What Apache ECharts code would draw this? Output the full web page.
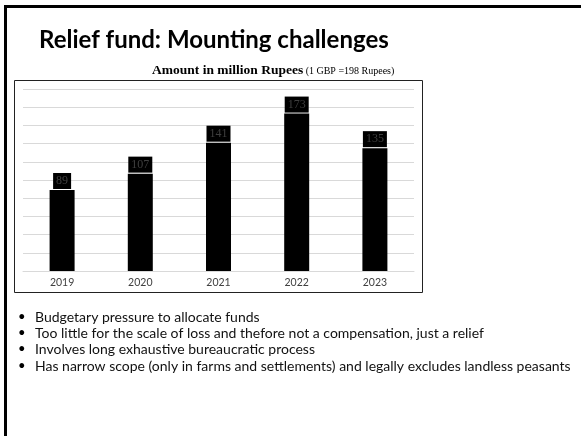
<!DOCTYPE html>
<html>
<head>
<meta charset="utf-8">
<script src="https://cdn.jsdelivr.net/npm/echarts@6/dist/echarts.min.js"></script>
<style>html,body{margin:0;padding:0;background:#fff}#c{width:581px;height:436px}</style>
</head>
<body>
<div id="c"></div>
<script>
var years = ['2019', '2020', '2021', '2022', '2023'];
var amounts = [89, 107, 141, 173, 135];
var titleText = 'Relief fund: Mounting challenges';
var subtitleMain = 'Amount in million Rupees';
var subtitleNote = ' (1 GBP =198 Rupees)';
var bullets = [
  'Budgetary pressure to allocate funds',
  'Too little for the scale of loss and thefore not a compensation, just a relief',
  'Involves long exhaustive bureaucratic process',
  'Has narrow scope (only in farms and settlements) and legally excludes landless peasants'
];
var bulletY = [317, 333, 349, 366];

var chart = echarts.init(document.getElementById('c'), null, {renderer: 'canvas'});
var graphics = [
  {type: 'polyline', shape: {points: [[5.5, 800], [5.5, 6.5], [800, 6.5]]}, style: {fill: 'none', stroke: '#000', lineWidth: 3}, silent: true},
  {type: 'rect', shape: {x: 14.5, y: 80.5, width: 408, height: 212}, style: {fill: 'none', stroke: '#222', lineWidth: 1}, silent: true, z: -1},
  {type: 'text', left: 152, top: 64, style: {
    text: '{a|' + subtitleMain + '}{b|' + subtitleNote + '}',
    rich: {
      a: {fontFamily: 'Liberation Serif', fontWeight: 'bold', fontSize: 13.5, fill: '#000'},
      b: {fontFamily: 'Liberation Serif', fontSize: 10, fill: '#000'}
    }
  }}
];
bullets.forEach(function (t, i) {
  graphics.push({type: 'text', x: 18, y: bulletY[i], style: {text: '•', fontFamily: 'Lato', fontSize: 13, fill: '#000', textVerticalAlign: 'middle'}});
  graphics.push({type: 'text', x: 35, y: bulletY[i], style: {text: t, fontFamily: 'Lato', fontSize: 14, fill: '#111', textVerticalAlign: 'middle'}});
});

chart.setOption({
  animation: false,
  title: {
    text: titleText, left: 34, top: 23,
    textStyle: {fontFamily: 'Lato', fontWeight: 'bold', fontSize: 24, color: '#000'}
  },
  grid: {left: 23, right: 167, top: 89, bottom: 165, containLabel: false},
  xAxis: {
    type: 'category', data: years,
    axisLine: {lineStyle: {color: '#d9d9d9'}},
    axisTick: {show: false},
    axisLabel: {fontFamily: 'Lato', fontSize: 10.5, color: '#404040', margin: 6}
  },
  yAxis: {
    type: 'value', min: 0, max: 200, interval: 20,
    axisLabel: {show: false}, axisLine: {show: false}, axisTick: {show: false},
    splitLine: {lineStyle: {color: '#d9d9d9', width: 1}}
  },
  series: [{
    type: 'bar', data: amounts, barWidth: 25,
    itemStyle: {color: '#000'},
    label: {
      show: true, position: 'top', distance: 1,
      fontFamily: 'Liberation Serif', fontSize: 12, lineHeight: 12, color: '#3f3f3f',
      backgroundColor: '#000', padding: [2, 3, 2, 3]
    }
  }],
  graphic: graphics
});
</script>
</body>
</html>
